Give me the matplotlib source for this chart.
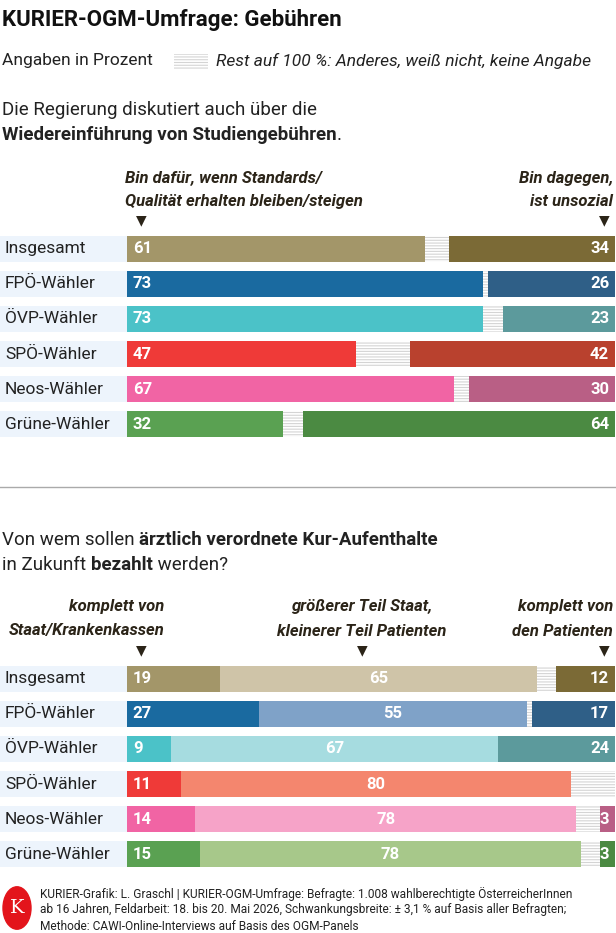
import matplotlib.pyplot as plt
from matplotlib.patches import Rectangle

plt.rcParams['font.family'] = ['Roboto', 'DejaVu Sans']
plt.rcParams['hatch.linewidth'] = 0.8

groups = ['Insgesamt', 'FPÖ-Wähler', 'ÖVP-Wähler', 'SPÖ-Wähler', 'Neos-Wähler', 'Grüne-Wähler']

# Studiengebühren
pro = [61, 73, 73, 47, 67, 32]
contra = [34, 26, 23, 42, 30, 64]

# Kur-Aufenthalte
staat = [19, 27, 9, 11, 14, 15]
mixed = [65, 55, 67, 80, 78, 78]
patient = [12, 17, 24, 0, 3, 3]

dark = ['#a39669', '#1a6aa0', '#4bc2c8', '#ef3a38', '#f164a4', '#5aa152']
light = ['#cfc4a8', '#7fa2c8', '#a6dce0', '#f4866e', '#f6a3c8', '#a7c88a']
second = ['#7b6a36', '#2f5f87', '#5c9a9c', '#b9412e', '#b95f85', '#4b8a42']

W, H = 616, 933
fig = plt.figure(figsize=(W / 100, H / 100), dpi=100)
renderer = fig.canvas.get_renderer()
TXT = '#222222'


def ftext(x, y, s, **kw):
    kw.setdefault('color', TXT)
    kw.setdefault('va', 'center')
    return fig.text(x / W, 1 - y / H, s, **kw)


def rich(x, y, parts, fontsize=13.5):
    # parts: list of (text, bold)
    for s, bold in parts:
        t = ftext(x, y, s, fontsize=fontsize, fontweight='bold' if bold else 'normal')
        x += t.get_window_extent(renderer).width


def bar_axes(ytop, ybot):
    ax = fig.add_axes([127 / W, 1 - ybot / H, 488 / W, (ybot - ytop) / H])
    ax.set_xlim(0, 100)
    ax.set_ylim(5.5, -0.5)
    ax.axis('off')
    # label band
    ax.barh(range(6), [26] * 6, left=-26, height=0.74, color='#edf4fc', clip_on=False)
    for i, g in enumerate(groups):
        ax.text(-25, i, g, va='center', ha='left', fontsize=12.5, color=TXT, clip_on=False)
    # rest background
    ax.barh(range(6), [100] * 6, height=0.74, color='white', edgecolor='#d4d4d4',
            hatch='------', linewidth=0)
    return ax


def seg_label(ax, x, i, v, ha):
    ax.text(x, i, str(v), va='center', ha=ha, color='white', fontsize=12, fontweight='bold')


def tri(x, y):
    ftext(x, y, '▼', ha='center', fontsize=10, color='#2b2418', family='DejaVu Sans')


def note(x, y, s, ha):
    ftext(x, y, s, fontsize=12, fontweight='bold', style='italic', ha=ha, color='#2b2418')


# header
ftext(2, 20, 'KURIER-OGM-Umfrage: Gebühren', fontsize=16, fontweight='bold', color='#111111')
ftext(2, 61, 'Angaben in Prozent', fontsize=12.5)
fig.patches.append(Rectangle((174 / W, 1 - 70 / H), 34 / W, 16 / H, transform=fig.transFigure,
                             facecolor='white', edgecolor='#d4d4d4', hatch='------', lw=0))
ftext(216, 61, 'Rest auf 100 %: Anderes, weiß nicht, keine Angabe', fontsize=12.5, style='italic')

# section 1
rich(2, 110, [('Die Regierung diskutiert auch über die', False)])
rich(2, 135, [('Wiedereinführung von Studiengebühren', True), ('.', False)])
note(125, 178, 'Bin dafür, wenn Standards/', 'left')
note(125, 201, 'Qualität erhalten bleiben/steigen', 'left')
note(613, 178, 'Bin dagegen,', 'right')
note(613, 201, 'ist unsozial', 'right')
tri(141, 220)
tri(604, 220)

ax1 = bar_axes(231, 442)
ax1.barh(range(6), pro, height=0.74, color=dark)
ax1.barh(range(6), contra, left=[100 - c for c in contra], height=0.74, color=second)
for i in range(6):
    seg_label(ax1, 1.2, i, pro[i], 'left')
    seg_label(ax1, 98.8, i, contra[i], 'right')

fig.add_artist(plt.Line2D([0, 1], [1 - 487 / H] * 2, color='#aaaaaa', lw=1))

# section 2
rich(2, 540, [('Von wem sollen ', False), ('ärztlich verordnete Kur-Aufenthalte', True)])
rich(2, 565, [('in Zukunft ', False), ('bezahlt', True), (' werden?', False)])

note(164, 607, 'komplett von', 'right')
note(164, 631, 'Staat/Krankenkassen', 'right')
note(362, 607, 'größerer Teil Staat,', 'center')
note(362, 631, 'kleinerer Teil Patienten', 'center')
note(613, 607, 'komplett von', 'right')
note(613, 631, 'den Patienten', 'right')
tri(141, 650)
tri(362, 650)
tri(604, 650)

ax2 = bar_axes(661, 872)
ax2.barh(range(6), staat, height=0.74, color=dark)
ax2.barh(range(6), mixed, left=staat, height=0.74, color=light)
ax2.barh(range(6), patient, left=[100 - p for p in patient], height=0.74, color=second)
for i in range(6):
    seg_label(ax2, 1.2, i, staat[i], 'left')
    seg_label(ax2, staat[i] + mixed[i] / 2, i, mixed[i], 'center')
    if patient[i]:
        seg_label(ax2, 98.8, i, patient[i], 'right')

# footer
fig.patches.append(plt.Circle((17 / W, 1 - 908 / H), 14 / W, transform=fig.transFigure,
                              color='#e3141b'))
fig.text(17 / W, 1 - 908 / H, 'K', ha='center', va='center', color='white', fontsize=14,
         family='DejaVu Serif')
for k, line in enumerate([
        'KURIER-Grafik: L. Graschl | KURIER-OGM-Umfrage: Befragte: 1.008 wahlberechtigte ÖsterreicherInnen',
        'ab 16 Jahren, Feldarbeit: 18. bis 20. Mai 2026, Schwankungsbreite: ± 3,1 % auf Basis aller Befragten;',
        'Methode: CAWI-Online-Interviews auf Basis des OGM-Panels']):
    ftext(40, 894 + k * 16, line, fontsize=8.6)

fig.savefig('out.png', dpi=100)
